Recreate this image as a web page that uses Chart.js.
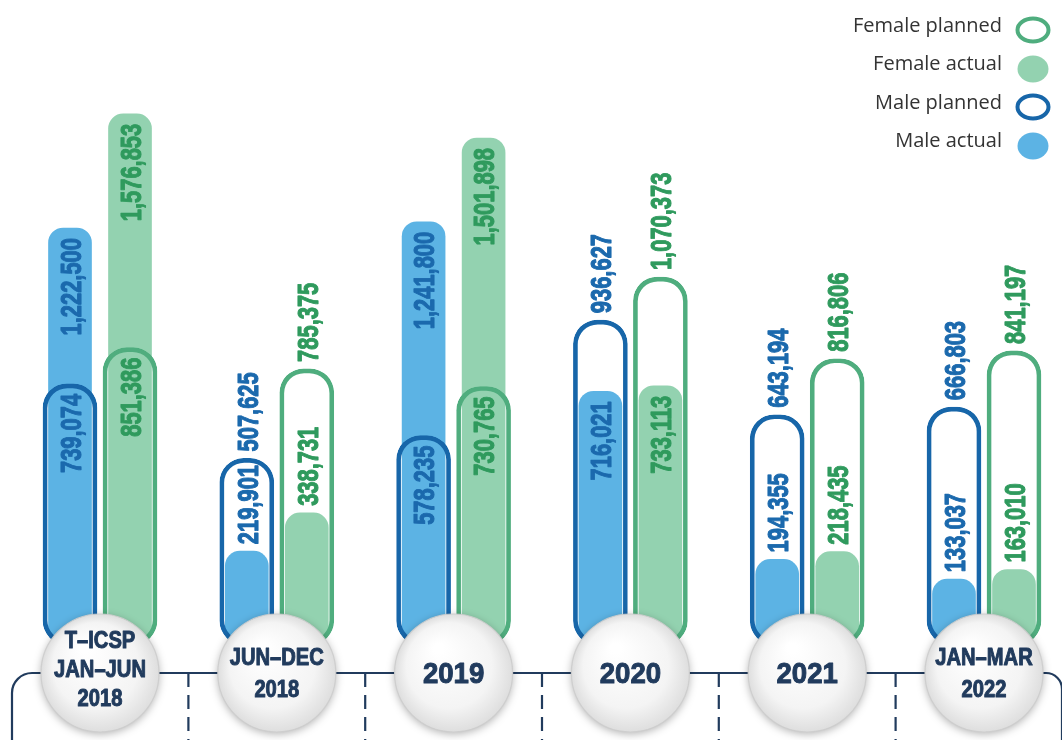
<!DOCTYPE html>
<html><head><meta charset="utf-8">
<script src="https://cdn.jsdelivr.net/npm/chart.js@4.4.1/dist/chart.umd.min.js"></script>
<style>html,body{margin:0;padding:0;background:#fff;overflow:hidden}canvas{display:block}</style>
</head><body>
<canvas id="c" width="1062" height="740"></canvas>
<script>
// ---- data ----
const categories = [['T–ICSP', 'JAN–JUN', '2018'], ['JUN–DEC', '2018'], ['2019'], ['2020'], ['2021'], ['JAN–MAR', '2022']];
const malePlanned   = [739074, 507625, 578235, 936627, 643194, 666803];
const maleActual    = [1222500, 219901, 1241800, 716021, 194355, 133037];
const femalePlanned = [851386, 785375, 730765, 1070373, 816806, 841197];
const femaleActual  = [1576853, 338731, 1501898, 733113, 218435, 163010];
const seriesNames = ['Male planned', 'Female planned', 'Male actual', 'Female actual'];

// ---- styles ----
const C = {
  maleFill: '#5cb3e4', maleLine: '#1766a9', maleText: '#1b69ad',
  femaleFill: '#93d2b0', femaleLine: '#4fad7e', femaleText: '#2f9a5d',
  navy: '#213b5d', legendText: '#333333'
};
const NUM_FONT = '"Liberation Sans", Arial, sans-serif';

function fmt(v) { return v.toLocaleString('en-US'); }

function drawRot(ctx, text, x, yStart, color, fs, sx) {
  ctx.save();
  ctx.translate(x, yStart);
  ctx.rotate(-Math.PI / 2);
  ctx.scale(sx, 1);
  ctx.font = 'bold ' + fs + 'px ' + NUM_FONT;
  ctx.fillStyle = color;
  ctx.strokeStyle = color;
  ctx.lineWidth = 1.1;
  ctx.lineJoin = 'round';
  ctx.textAlign = 'left';
  ctx.textBaseline = 'alphabetic';
  ctx.fillText(text, 0, fs * 0.716 / 2);
  ctx.strokeText(text, 0, fs * 0.716 / 2);
  ctx.restore();
}

const decor = {
  id: 'decor',
  afterDatasetsDraw(chart) {
    const ctx = chart.ctx;
    const fs = 30, sx = 0.73;
    const circleTop = 614;
    // value labels
    [[0, 2, C.maleText], [1, 3, C.femaleText]].forEach(([pi, ai, color]) => {
      const pEls = chart.getDatasetMeta(pi).data, aEls = chart.getDatasetMeta(ai).data;
      const pData = chart.data.datasets[pi].data, aData = chart.data.datasets[ai].data;
      pEls.forEach((pEl, i) => {
        const aEl = aEls[i];
        const pText = fmt(pData[i]), aText = fmt(aData[i]);
        ctx.font = 'bold ' + fs + 'px ' + NUM_FONT;
        const pLen = ctx.measureText(pText).width * sx;
        const aLen = ctx.measureText(aText).width * sx;
        const aStart = (circleTop - aEl.y >= aLen + 24) ? aEl.y + 10 + aLen : aEl.y - 7;
        const pStart = (aData[i] > pData[i]) ? pEl.y + 10 + pLen : pEl.y - 7;
        drawRot(ctx, pText, pEl.x, pStart, color, fs, sx);
        drawRot(ctx, aText, aEl.x, aStart, color, fs, sx);
      });
    });

    // timeline
    const xs = chart.scales.x;
    const centers = categories.map((_, i) => xs.getPixelForValue(i));
    const cy = 673, r = 59;
    ctx.save();
    ctx.strokeStyle = C.navy;
    ctx.lineWidth = 2.2;
    ctx.beginPath();
    ctx.moveTo(centers[centers.length - 1], cy);
    ctx.lineTo(1046, cy);
    ctx.arcTo(1062, cy, 1062, cy + 16, 16);
    ctx.lineTo(1062, 760);
    ctx.moveTo(centers[centers.length - 1], cy);
    ctx.lineTo(32, cy);
    ctx.arcTo(12, cy, 12, cy + 20, 20);
    ctx.lineTo(12, 760);
    ctx.stroke();
    ctx.setLineDash([14, 8]);
    for (let i = 0; i < centers.length - 1; i++) {
      const mx = (centers[i] + centers[i + 1]) / 2;
      ctx.beginPath();
      ctx.moveTo(mx, cy);
      ctx.lineTo(mx, 745);
      ctx.stroke();
    }
    ctx.restore();

    // circles
    centers.forEach((x, i) => {
      ctx.save();
      ctx.shadowColor = 'rgba(0,0,0,0.3)';
      ctx.shadowBlur = 9;
      ctx.shadowOffsetY = 2;
      const g = ctx.createRadialGradient(x - 15, cy - 25, 5, x, cy, r);
      g.addColorStop(0, '#ffffff');
      g.addColorStop(0.7, '#f4f4f4');
      g.addColorStop(1, '#dedede');
      ctx.fillStyle = g;
      ctx.beginPath();
      ctx.arc(x, cy, r, 0, Math.PI * 2);
      ctx.fill();
      ctx.restore();
      ctx.save();
      ctx.strokeStyle = 'rgba(205,205,205,0.9)';
      ctx.lineWidth = 1.2;
      ctx.beginPath();
      ctx.arc(x, cy, r, 0, Math.PI * 2);
      ctx.stroke();
      ctx.restore();

      const lines = categories[i];
      const n = lines.length;
      const cfs = n === 1 ? 30 : 24;
      const csx = n === 1 ? 0.92 : 0.84;
      const lh = n === 3 ? 29 : 32;
      const mid = n === 3 ? cy - 5 : cy - 1;
      lines.forEach((ln, k) => {
        const yMid = mid + (k - (n - 1) / 2) * lh;
        ctx.save();
        ctx.translate(x, yMid);
        ctx.scale(csx, 1);
        ctx.font = 'bold ' + cfs + 'px ' + NUM_FONT;
        ctx.fillStyle = C.navy;
        ctx.strokeStyle = C.navy;
        ctx.lineWidth = 1;
        ctx.lineJoin = 'round';
        ctx.textAlign = 'center';
        ctx.textBaseline = 'alphabetic';
        ctx.fillText(ln, 0, cfs * 0.716 / 2);
        ctx.strokeText(ln, 0, cfs * 0.716 / 2);
        ctx.restore();
      });
    });
  },
  afterDraw(chart) {
    // legend (custom layout: text right-aligned, marker to its right)
    const ctx = chart.ctx;
    const ds = chart.data.datasets;
    const order = [1, 3, 0, 2];
    const rowsY = [26, 64, 103, 141];
    ctx.save();
    ctx.font = '20px "Open Sans", sans-serif';
    ctx.textAlign = 'right';
    ctx.textBaseline = 'middle';
    order.forEach((di, k) => {
      const d = ds[di];
      const y = rowsY[k];
      ctx.fillStyle = C.legendText;
      ctx.fillText(d.label, 1002, y);
      ctx.beginPath();
      if (d.borderWidth > 0) {
        ctx.ellipse(1033, y + 4, 15.5, 11.5, 0, 0, Math.PI * 2);
        ctx.strokeStyle = d.borderColor;
        ctx.lineWidth = 4;
        ctx.stroke();
      } else {
        ctx.ellipse(1033, y + 5, 15.5, 13.5, 0, 0, Math.PI * 2);
        ctx.fillStyle = d.backgroundColor;
        ctx.fill();
      }
    });
    ctx.restore();
  }
};

const outline = (label, data, stack, color) => ({
  label, data, stack,
  backgroundColor: 'rgba(0,0,0,0)', borderColor: color, borderWidth: 4,
  borderSkipped: false, borderRadius: 24, barThickness: 60, maxBarThickness: 54,
  base: -70000, clip: false
});
const filled = (label, data, stack, color) => ({
  label, data, stack,
  backgroundColor: color, borderWidth: 0,
  borderSkipped: false, borderRadius: 15, barThickness: 60, maxBarThickness: 43,
  base: -70000, clip: false
});

new Chart(document.getElementById('c'), {
  type: 'bar',
  data: {
    labels: categories,
    datasets: [
      outline(seriesNames[0], malePlanned, 'male', C.maleLine),
      outline(seriesNames[1], femalePlanned, 'female', C.femaleLine),
      filled(seriesNames[2], maleActual, 'male', C.maleFill),
      filled(seriesNames[3], femaleActual, 'female', C.femaleFill)
    ]
  },
  options: {
    responsive: false,
    devicePixelRatio: 1,
    animation: false,
    layout: { padding: { left: 100, right: 78, top: 0, bottom: 53.5 } },
    plugins: { legend: { display: false }, tooltip: { enabled: false } },
    scales: {
      x: { type: 'category', offset: false, stacked: true, display: false },
      y: { stacked: false, min: -200000, max: 1930000, display: false }
    }
  },
  plugins: [decor]
});
</script>
</body></html>
